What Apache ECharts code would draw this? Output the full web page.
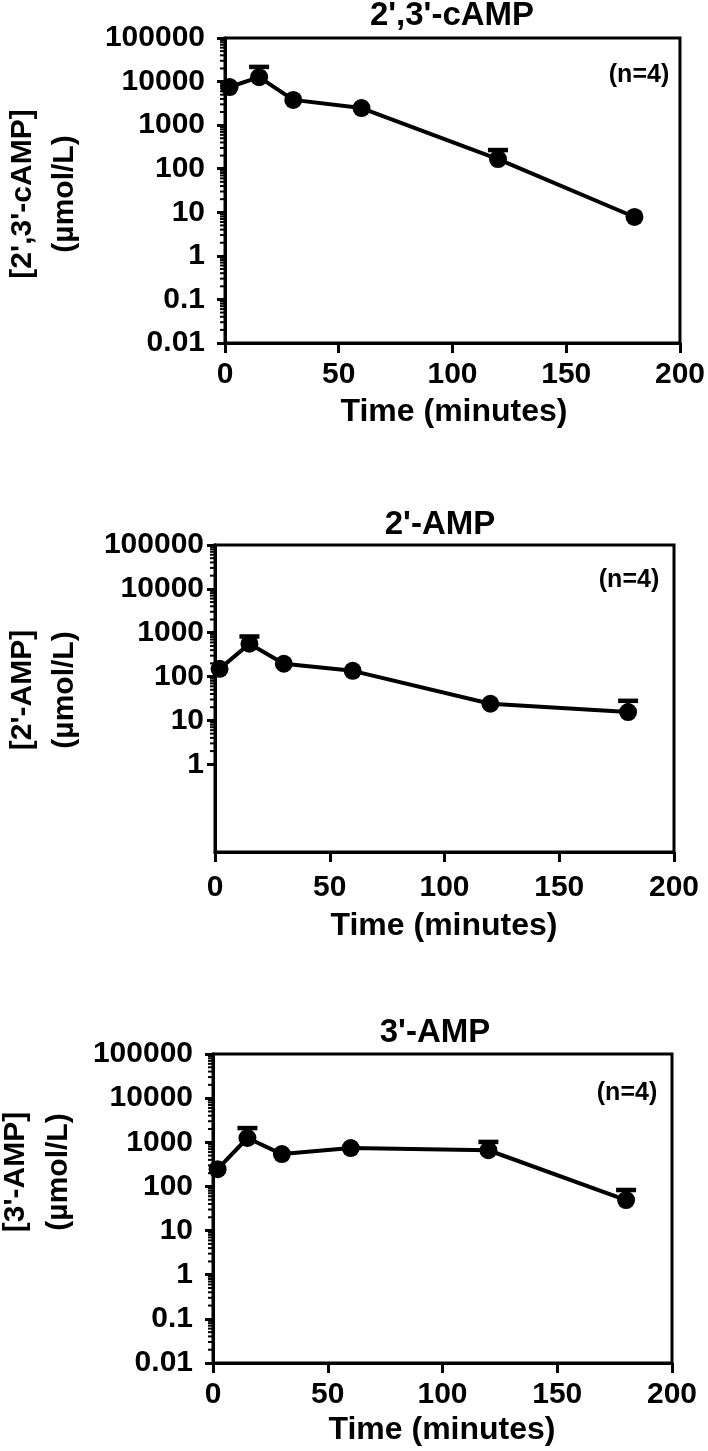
<!DOCTYPE html>
<html><head><meta charset="utf-8">
<script src="https://cdn.jsdelivr.net/npm/echarts@6/dist/echarts.min.js"></script>
<style>html,body{margin:0;padding:0;background:#fff}#c{width:708px;height:1451px}</style>
</head><body><div id="c"></div>
<script>
// ---- data ----
const times = [2, 15, 30, 60, 120, 180];
const cAMP23 = [7500, 12600, 3800, 2460, 166, 7.8];
const cAMP23Upper = [null, 21700, null, null, 268, null];
const amp2 = [150, 560, 196, 135, 24, 15.5];
const amp2Upper = [null, 820, null, null, null, 28];
const amp3 = [246, 1250, 540, 740, 660, 49];
const amp3Upper = [null, 2100, null, null, 1020, 83];
const xTickValues = [0, 50, 100, 150, 200];
const yTickLabels = ['0.01', '0.1', '1', '10', '100', '1000', '10000', '100000']; // exponents -2..5
const panelTitles = ["2',3'-cAMP", "2'-AMP", "3'-AMP"];
const yTitles = [["[2',3'-cAMP]", "(\u00b5mol/L)"], ["[2'-AMP]", "(\u00b5mol/L)"], ["[3'-AMP]", "(\u00b5mol/L)"]];
const xTitle = 'Time (minutes)';
const nLabel = '(n=4)';

const FONT = 'Liberation Sans, Arial, Helvetica, sans-serif';
const chart = echarts.init(document.getElementById('c'), null, {renderer: 'canvas'});

const grids = [
  {left: 225, top: 38, width: 459, height: 305},
  {left: 215, top: 545, width: 459, height: 307},
  {left: 213, top: 1054, width: 459, height: 309}
];
const labelMarginsY = [20, 11, 20];
const labelMarginsX = [17, 21, 17];

function yFmt(v) {
  const e = Math.round(Math.log10(v));
  return yTickLabels[e + 2] || '';
}

const gridOpt = grids.map(g => Object.assign({show: true, borderColor: '#000', borderWidth: 3, backgroundColor: 'transparent', containLabel: false}, g));
// overlay grid for panel 2 labelled decades (1 .. 100000)
gridOpt.push({left: 215, top: 545, width: 459, height: 307 * 5 / 7, show: false});

const xAxes = [0, 1, 2].map(i => ({
  type: 'value', gridIndex: i, min: 0, max: 200, interval: 50,
  axisLine: {show: true, lineStyle: {color: '#000', width: 3}},
  axisTick: {show: true, length: 10, lineStyle: {color: '#000', width: 3}},
  axisLabel: {color: '#000', fontSize: 30, fontWeight: 'bold', fontFamily: FONT, margin: labelMarginsX[i]},
  splitLine: {show: false}
}));
xAxes.push({type: 'value', gridIndex: 3, min: 0, max: 200, show: false});

function yAxisDef(i, min, max, split, showTicks, margin) {
  return {
    type: 'log', logBase: 10, gridIndex: i, min: min, max: max, splitNumber: split,
    axisLine: {show: true, lineStyle: {color: '#000', width: 3}},
    axisTick: {show: showTicks, length: 8, lineStyle: {color: '#000', width: 3}},
    axisLabel: {show: showTicks, color: '#000', fontSize: 30, fontWeight: 'bold', fontFamily: FONT, margin: margin, formatter: yFmt},
    splitLine: {show: false}
  };
}
const yAxes = [
  yAxisDef(0, 0.01, 100000, 7, true, labelMarginsY[0]),
  yAxisDef(1, 0.01, 100000, 7, false, labelMarginsY[1]),
  yAxisDef(2, 0.01, 100000, 7, true, labelMarginsY[2]),
  yAxisDef(3, 1, 100000, 5, true, labelMarginsY[1])
];

function minorTickData(minExp, maxExp) {
  const out = [];
  for (let k = minExp; k < maxExp; k++) {
    for (let m = 2; m <= 9; m++) out.push([0, m * Math.pow(10, k)]);
  }
  return out;
}

function minorSeries(xi, yi, minExp, maxExp) {
  return {
    type: 'custom', xAxisIndex: xi, yAxisIndex: yi, silent: true, clip: false, z: 1,
    data: minorTickData(minExp, maxExp),
    renderItem: function (params, api) {
      const p = api.coord([api.value(0), api.value(1)]);
      return {type: 'line', shape: {x1: p[0] - 5, y1: p[1], x2: p[0], y2: p[1]}, style: {stroke: '#000', lineWidth: 2}};
    }
  };
}

function errSeries(idx, means, uppers) {
  const data = [];
  times.forEach((t, j) => { if (uppers[j] != null) data.push([t, means[j], uppers[j]]); });
  return {
    type: 'custom', xAxisIndex: idx, yAxisIndex: idx, silent: true, clip: false, z: 2,
    data: data,
    renderItem: function (params, api) {
      const b = api.coord([api.value(0), api.value(1)]);
      const u = api.coord([api.value(0), api.value(2)]);
      return {type: 'group', children: [
        {type: 'line', shape: {x1: b[0], y1: b[1], x2: u[0], y2: u[1]}, style: {stroke: '#000', lineWidth: 3.5}},
        {type: 'line', shape: {x1: u[0] - 10, y1: u[1], x2: u[0] + 10, y2: u[1]}, style: {stroke: '#000', lineWidth: 4.5}}
      ]};
    }
  };
}

function lineSeries(idx, vals) {
  return {
    type: 'line', xAxisIndex: idx, yAxisIndex: idx, z: 3,
    data: times.map((t, j) => [t, vals[j]]),
    symbol: 'circle', symbolSize: 18, showSymbol: true,
    itemStyle: {color: '#000'},
    lineStyle: {color: '#000', width: 4},
    animation: false
  };
}

const series = [
  minorSeries(0, 0, -2, 5), minorSeries(3, 3, 0, 5), minorSeries(2, 2, -2, 5),
  errSeries(0, cAMP23, cAMP23Upper), errSeries(1, amp2, amp2Upper), errSeries(2, amp3, amp3Upper),
  lineSeries(0, cAMP23), lineSeries(1, amp2), lineSeries(2, amp3)
];

function txt(x, y, text, size, rot) {
  return {type: 'text', x: x, y: y, rotation: rot || 0, z: 10,
    style: {text: text, fill: '#000', font: 'bold ' + size + 'px ' + FONT, textAlign: 'center', textVerticalAlign: 'middle'}};
}

const titlePos = [[452, 16], [440, 525], [435, 1033]];
const xTitlePos = [[454, 412], [444, 926], [442, 1430]];
const nPos = [[639, 75], [629, 580], [627, 1093]];
const yTitlePos = [[[23, 194], [65, 194]], [[23, 690], [65, 690]], [[16, 1172], [59, 1172]]];

const graphics = [];
for (let i = 0; i < 3; i++) {
  graphics.push(txt(titlePos[i][0], titlePos[i][1], panelTitles[i], 33));
  graphics.push(txt(xTitlePos[i][0], xTitlePos[i][1], xTitle, 32));
  graphics.push(txt(nPos[i][0], nPos[i][1], nLabel, 25));
  graphics.push(txt(yTitlePos[i][0][0], yTitlePos[i][0][1], yTitles[i][0], 30, Math.PI / 2));
  graphics.push(txt(yTitlePos[i][1][0], yTitlePos[i][1][1], yTitles[i][1], 30, Math.PI / 2));
}

chart.setOption({
  animation: false,
  backgroundColor: '#fff',
  grid: gridOpt,
  xAxis: xAxes,
  yAxis: yAxes,
  series: series,
  graphic: graphics
});
</script></body></html>
